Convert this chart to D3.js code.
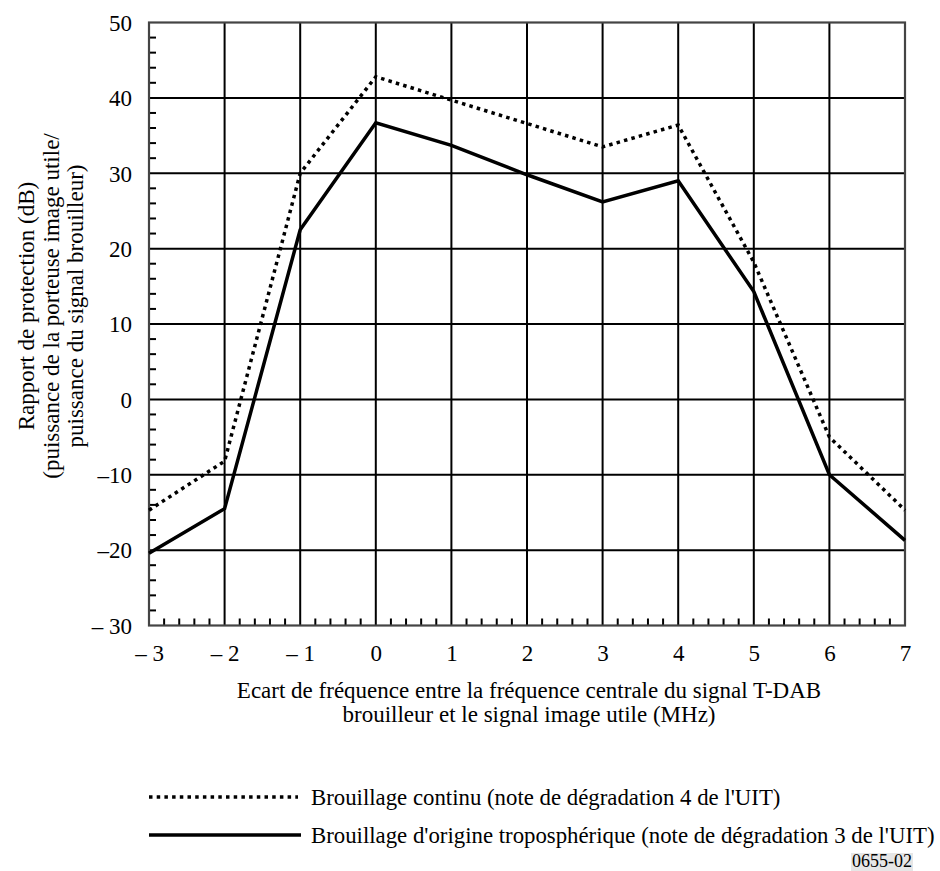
<!DOCTYPE html>
<html>
<head>
<meta charset="utf-8">
<script src="https://cdn.jsdelivr.net/npm/d3@7"></script>
<style>
  html, body { margin: 0; padding: 0; background: #fff; }
  svg text { font-family: 'Liberation Serif', 'DejaVu Serif', serif; }
</style>
</head>
<body>
<svg id="chart" width="940" height="871"></svg>
<script>
// ---- data ----
const xValues = [-3, -2, -1, 0, 1, 2, 3, 4, 5, 6, 7];
const continuousValues = [-14.7, -8.2, 30, 42.8, 39.7, 36.6, 33.5, 36.4, 18.2, -5, -14.7];
const troposphericValues = [-20.4, -14.5, 22.5, 36.7, 33.7, 29.8, 26.2, 29.0, 14.3, -10, -18.7];
const xTickValues = [-3, -2, -1, 0, 1, 2, 3, 4, 5, 6, 7];
const xTickLabels = ["\u2013 3", "\u2013 2", "\u2013 1", "0", "1", "2", "3", "4", "5", "6", "7"];
const yTickValues = [-30, -20, -10, 0, 10, 20, 30, 40, 50];
const yTickLabels = ["\u2013 30", "\u201320", "\u201310", "0", "10", "20", "30", "40", "50"];
const yTitleLines = ["Rapport de protection (dB)", "(puissance de la porteuse image utile/", "puissance du signal brouilleur)"];
const xTitleLines = ["Ecart de fréquence entre la fréquence centrale du signal T-DAB", "brouilleur et le signal image utile (MHz)"];
const legendLabels = ["Brouillage continu (note de dégradation 4 de l'UIT)", "Brouillage d'origine troposphérique (note de dégradation 3 de l'UIT)"];
const figureCode = "0655-02";

// ---- layout ----
const FONT = "'Liberation Serif', 'DejaVu Serif', serif";
const svg = d3.select("#chart");
const L = 149, R = 905, T = 22.5, B = 625.5;
const x = d3.scaleLinear().domain([-3, 7]).range([L, R]);
const y = d3.scaleLinear().domain([-30, 50]).range([B, T]);
const fs = 23;

// grid
const g = svg.append("g");
g.selectAll("line.vg").data(xTickValues.slice(1, -1)).join("line")
  .attr("x1", d => x(d)).attr("x2", d => x(d)).attr("y1", T).attr("y2", B)
  .attr("stroke", "#000").attr("stroke-width", 2);
g.selectAll("line.hg").data(yTickValues.slice(1, -1)).join("line")
  .attr("x1", L).attr("x2", R).attr("y1", d => y(d)).attr("y2", d => y(d))
  .attr("stroke", "#000").attr("stroke-width", 2);

// minor ticks (inside)
const xMinor = d3.range(-3, 7.001, 0.2).filter(v => Math.abs(v - Math.round(v)) > 1e-6);
g.selectAll("line.xm").data(xMinor).join("line")
  .attr("x1", d => x(d)).attr("x2", d => x(d)).attr("y1", B).attr("y2", B - 7)
  .attr("stroke", "#000").attr("stroke-width", 2);
const yMinor = d3.range(-30, 50.001, 2).filter(v => v % 10 !== 0);
g.selectAll("line.ym").data(yMinor).join("line")
  .attr("x1", L).attr("x2", L + 7).attr("y1", d => y(d)).attr("y2", d => y(d))
  .attr("stroke", "#000").attr("stroke-width", 2);

// border
g.append("rect").attr("x", L).attr("y", T).attr("width", R - L).attr("height", B - T)
  .attr("fill", "none").attr("stroke", "#444").attr("stroke-width", 2.2);

// axes labels via d3 axes
const xAxis = d3.axisBottom(x).tickValues(xTickValues).tickSize(0).tickPadding(0)
  .tickFormat((d, i) => xTickLabels[i]);
const xa = svg.append("g").attr("transform", `translate(0,${B})`).call(xAxis)
  .attr("font-family", FONT).attr("font-size", fs);
xa.select(".domain").remove();
xa.selectAll("text").attr("fill", "#000").attr("dy", null).attr("y", 35);

const yAxis = d3.axisLeft(y).tickValues(yTickValues).tickSize(0).tickPadding(0)
  .tickFormat((d, i) => yTickLabels[i]);
const ya = svg.append("g").attr("transform", `translate(${L},0)`).call(yAxis)
  .attr("font-family", FONT).attr("font-size", fs);
ya.select(".domain").remove();
ya.selectAll("text").attr("fill", "#000").attr("x", -17).attr("dy", "0.34em");

// lines
const line = d3.line().x((d, i) => x(xValues[i])).y(d => y(d));
svg.append("path").datum(continuousValues).attr("d", line)
  .attr("fill", "none").attr("stroke", "#000").attr("stroke-width", 3.5)
  .attr("stroke-dasharray", "3.5,4.2");
svg.append("path").datum(troposphericValues).attr("d", line)
  .attr("fill", "none").attr("stroke", "#000").attr("stroke-width", 3.5)
  .attr("stroke-linejoin", "miter");

// y title (rotated)
const cy = 306;
const yt = svg.append("text").attr("transform", `translate(0,${cy}) rotate(-90)`)
  .attr("text-anchor", "middle").attr("font-family", FONT).attr("font-size", fs).attr("fill", "#000");
yTitleLines.forEach((t, i) => {
  yt.append("tspan").attr("x", 0).attr("y", 34 + i * 24.5).text(t);
});

// x title
const xt = svg.append("text").attr("text-anchor", "middle").attr("font-family", FONT)
  .attr("font-size", fs).attr("fill", "#000");
xTitleLines.forEach((t, i) => {
  xt.append("tspan").attr("x", (L + R) / 2 + 2).attr("y", 698 + i * 24).text(t);
});

// legend
const legY = [797, 835];
const leg = svg.append("g");
legendLabels.forEach((t, i) => {
  const ln = leg.append("line").attr("x1", L).attr("x2", i === 0 ? 298 : 301)
    .attr("y1", legY[i]).attr("y2", legY[i]).attr("stroke", "#000").attr("stroke-width", 3.5);
  if (i === 0) ln.attr("stroke-dasharray", "3.5,4.2");
  leg.append("text").attr("x", 311).attr("y", legY[i] + 8).attr("font-family", FONT)
    .attr("font-size", 22.8).attr("fill", "#000").text(t);
});

// figure code
const codeText = svg.append("text").attr("x", 912).attr("y", 867).attr("text-anchor", "end")
  .attr("font-family", FONT).attr("font-size", 18).attr("fill", "#000").text(figureCode);
const bb = codeText.node().getBBox();
svg.insert("rect", () => codeText.node()).attr("x", bb.x - 1).attr("y", bb.y + 2).attr("width", bb.width + 2)
  .attr("height", bb.height - 2).attr("fill", "#e6e6e6");
</script>
</body>
</html>
